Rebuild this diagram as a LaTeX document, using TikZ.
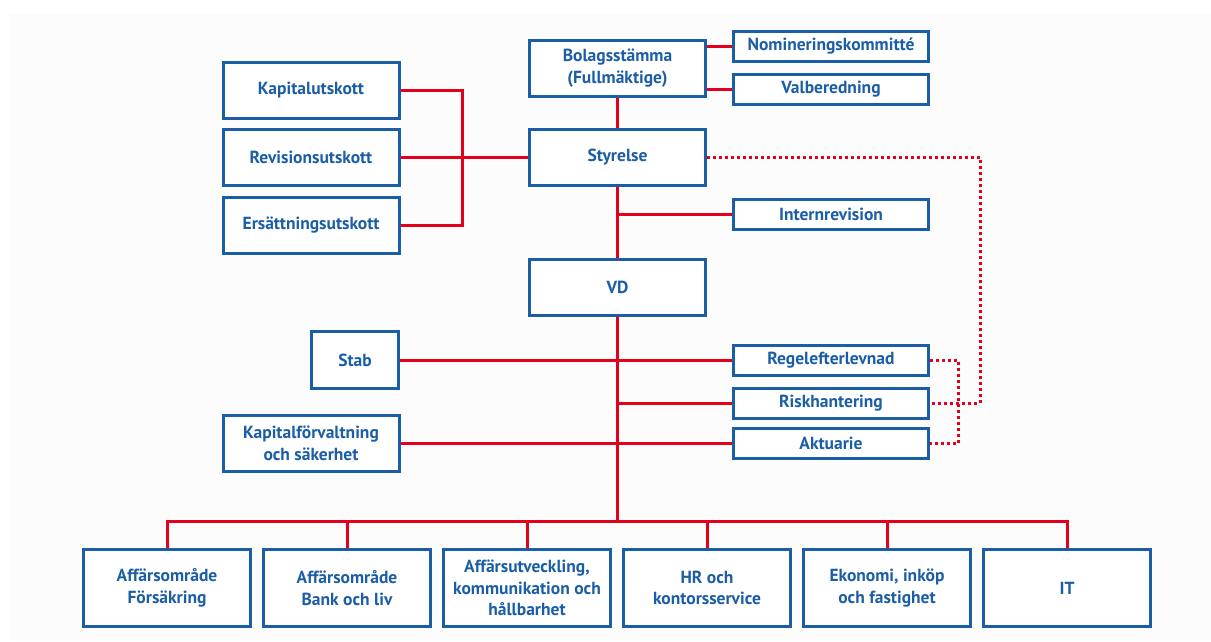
\documentclass[tikz,border=0pt]{standalone}
\usepackage{fontspec}
\setmainfont{PT Sans}
\usepackage{tikz}
\usetikzlibrary{positioning,calc}
\definecolor{cblue}{HTML}{1B5EA6}
\definecolor{cred}{HTML}{E2001A}
\definecolor{cbg}{HTML}{FCFCFD}
\tikzset{
  unit/.style={draw=cblue, fill=white, line width=3pt, align=center, inner sep=2pt,
               font=\bfseries\fontsize{17.5}{21.5}\selectfont, text=cblue},
  wide/.style={unit, minimum width=176pt, minimum height=56pt},
  side/.style={unit, minimum width=195pt, minimum height=30pt},
  base/.style={unit, minimum width=167pt, minimum height=77pt},
  link/.style={draw=cred, line width=3pt},
  dotlink/.style={draw=cred, line width=3pt, dash pattern=on 3pt off 3pt},
}

\begin{document}
\begin{tikzpicture}[x=1pt, y=-1pt]
\useasboundingbox (0,0) rectangle (1211,641);
\fill[cbg] (10,14) rectangle (1211,641);
% top of the organisation
\node[wide] (bol) at (617.5,68) {Bolagsstämma\\(Fullmäktige)};
\node[side] (nom) at (831,46) {Nomineringskommitté};
\node[side] (val) at (831,89.5) {Valberedning};
\node[wide] (sty) at (617.5,157) {Styrelse};
\node[wide] (kap) at (311,90) {Kapitalutskott};
\node[wide] (rev) at (311,157) {Revisionsutskott};
\node[wide] (ers) at (311,225) {Ersättningsutskott};
\node[side] (int) at (831,214.5) {Internrevision};
\node[wide] (vd) at (617.5,287) {VD};
% staff and control functions
\node[unit, minimum width=87pt, minimum height=57pt] (stab) at (355,360) {Stab};
\node[wide] (kf) at (311,443.5) {Kapitalförvaltning\\och säkerhet};
\node[side] (reg) at (831,360) {Regelefterlevnad};
\node[side] (risk) at (831,403) {Riskhantering};
\node[side] (akt) at (831,443.5) {Aktuarie};
% business units
\foreach \t [count=\i from 0] in {{Affärsområde\\Försäkring}, {Affärsområde\\Bank och liv},
    {Affärsutveckling,\\kommunikation och\\hållbarhet}, {HR och\\kontorsservice},
    {Ekonomi, inköp\\och fastighet}, {IT}}
  \node[base] (b\i) at (167+180*\i,588) {\t};

\coordinate (cj) at (462,157);
\coordinate (bus) at (617.5,521);
\coordinate (dr) at (980,300);
\coordinate (dl) at (958,400);
% solid lines
\draw[link] (bol.east |- nom.west) -- (nom.west);
\draw[link] (bol.east |- val.west) -- (val.west);
\draw[link] (bol) -- (sty);
\draw[link] (sty) -- (vd);
\draw[link] (int.west) -- (int.west -| sty.south);
\draw[link] (kap.east) -| (cj) |- (ers.east);
\draw[link] (rev) -- (sty);
\draw[link] (vd.south) -- (bus);
\draw[link] (stab.east) -- (reg.west);
\draw[link] (risk.west) -- (risk.west -| vd.south);
\draw[link] (kf.east) -- (akt.west);
\foreach \i in {0,...,5}
  \draw[link] (bus) -| (b\i.north);
% dotted reporting lines
\draw[dotlink] (sty.east) -| (dr) |- (risk.east);
\draw[dotlink] (reg.east) -| (dl) |- (akt.east);
\end{tikzpicture}
\end{document}
